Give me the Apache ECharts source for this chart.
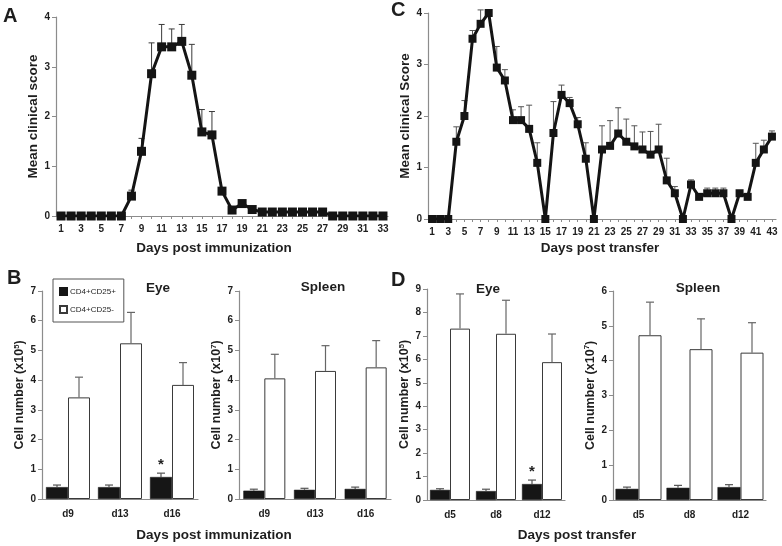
<!DOCTYPE html>
<html><head><meta charset="utf-8">
<script src="https://cdn.jsdelivr.net/npm/echarts@6/dist/echarts.min.js"></script>
<style>html,body{margin:0;padding:0;background:#fff}#c{width:782px;height:546px}</style>
</head><body><div id="c"></div><script>
// ---------- DATA ----------
const daysA = ['1','2','3','4','5','6','7','8','9','10','11','12','13','14','15','16','17','18','19','20','21','22','23','24','25','26','27','28','29','30','31','32','33'];
const scoreA = [0,0,0,0,0,0,0,0.4,1.3,2.86,3.4,3.4,3.51,2.83,1.69,1.63,0.5,0.12,0.25,0.13,0.08,0.08,0.08,0.08,0.08,0.08,0.08,0,0,0,0,0,0];
const errTopA = [null,null,null,null,null,null,null,0.52,1.56,3.48,3.85,3.76,3.85,3.45,2.14,2.1,0.56,null,0.29,0.18,null,null,null,null,null,null,null,null,null,null,null,null,null];

const daysC = ['1','2','3','4','5','6','7','8','9','10','11','12','13','14','15','16','17','18','19','20','21','22','23','24','25','26','27','28','29','30','31','32','33','34','35','36','37','38','39','40','41','42','43'];
const scoreC = [0,0,0,1.5,2.0,3.5,3.79,4.0,2.94,2.69,1.92,1.92,1.75,1.09,0,1.67,2.41,2.25,1.84,1.17,0,1.35,1.42,1.66,1.5,1.41,1.35,1.25,1.35,0.75,0.5,0,0.67,0.43,0.5,0.5,0.5,0,0.5,0.43,1.09,1.35,1.6];
const errTopC = [null,null,null,1.79,2.3,3.66,4.06,null,3.35,2.9,2.12,2.18,2.21,1.48,null,2.28,2.6,2.36,1.97,1.48,null,1.81,1.91,2.16,1.94,1.81,1.69,1.7,1.84,1.18,0.63,null,0.76,null,0.6,0.6,0.6,null,null,null,1.47,1.53,1.71];

const seriesNames = ['CD4+CD25+','CD4+CD25-'];

const daysB = ['d9','d13','d16'];
const bEyePos = [0.4,0.4,0.74];
const bEyePosErr = [0.47,0.47,0.87];
const bEyeNeg = [3.42,5.24,3.84];
const bEyeNegErr = [4.1,6.28,4.59];
const bSplPos = [0.28,0.31,0.34];
const bSplPosErr = [0.33,0.36,0.4];
const bSplNeg = [4.06,4.31,4.43];
const bSplNegErr = [4.87,5.16,5.33];

const daysD = ['d5','d8','d12'];
const dEyePos = [0.43,0.38,0.68];
const dEyePosErr = [0.48,0.46,0.85];
const dEyeNeg = [7.31,7.09,5.88];
const dEyeNegErr = [8.79,8.52,7.08];
const dSplPos = [0.32,0.35,0.37];
const dSplPosErr = [0.37,0.42,0.44];
const dSplNeg = [4.73,4.33,4.23];
const dSplNegErr = [5.68,5.2,5.09];

// ---------- STYLE ----------
const FONT = 'Liberation Sans, Arial, sans-serif';
const AX = '#8c8c8c';
const TXT = '#1e1e1e';

function errSeries(idx, vals, tops, offset, color, capW, lw, z) {
  const data = [];
  for (let i = 0; i < vals.length; i++) if (tops[i] != null) data.push([i, vals[i], tops[i]]);
  return {
    type: 'custom', xAxisIndex: idx, yAxisIndex: idx, clip: false, z: z, silent: true,
    encode: { x: 0, y: [1, 2] }, data: data,
    renderItem: function (params, api) {
      const p0 = api.coord([api.value(0), api.value(1)]);
      const p1 = api.coord([api.value(0), api.value(2)]);
      const x = p0[0] + offset;
      return { type: 'group', children: [
        { type: 'line', shape: { x1: x, y1: p0[1], x2: x, y2: p1[1] }, style: { stroke: color, lineWidth: lw } },
        { type: 'line', shape: { x1: x - capW / 2, y1: p1[1], x2: x + capW / 2, y2: p1[1] }, style: { stroke: color, lineWidth: lw } }
      ]};
    }
  };
}

const grids = [
  { left: 56, top: 17, width: 332, height: 199 },
  { left: 428, top: 13, width: 348, height: 206 },
  { left: 42, top: 291, width: 156, height: 208 },
  { left: 239, top: 291, width: 152, height: 208 },
  { left: 427, top: 289, width: 138, height: 211 },
  { left: 613, top: 291, width: 153, height: 209 }
];

const axisLine = { show: true, lineStyle: { color: AX, width: 1.2 } };
const tickLbl = { color: TXT, fontFamily: FONT, fontWeight: 'bold', fontSize: 10 };

function lineX(idx, cats) {
  return { type: 'category', gridIndex: idx, data: cats, boundaryGap: true,
    axisLine: axisLine, axisTick: { show: true, alignWithLabel: true, interval: 0, length: 3, lineStyle: { color: AX } },
    axisLabel: Object.assign({ interval: 1, margin: 8 }, tickLbl), splitLine: { show: false } };
}
function barX(idx, cats) {
  return { type: 'category', gridIndex: idx, data: cats, boundaryGap: true,
    axisLine: axisLine, axisTick: { show: false },
    axisLabel: Object.assign({ margin: 10 }, tickLbl), splitLine: { show: false } };
}
function valY(idx, max, name, gap, fs, rich) {
  const o = { type: 'value', gridIndex: idx, min: 0, max: max, interval: 1,
    axisLine: axisLine, axisTick: { show: true, length: 4, lineStyle: { color: AX } },
    axisLabel: Object.assign({ margin: 6 }, tickLbl), splitLine: { show: false },
    name: name, nameLocation: 'middle', nameRotate: 90, nameGap: gap,
    nameTextStyle: { color: TXT, fontFamily: FONT, fontWeight: 'bold', fontSize: fs } };
  if (rich) o.nameTextStyle.rich = { sup: { fontFamily: FONT, fontWeight: 'bold', fontSize: fs * 0.62, color: TXT, verticalAlign: 'top', padding: [0, 0, 7, 0] } };
  return o;
}

function lineSeries(idx, vals, size) {
  return { type: 'line', xAxisIndex: idx, yAxisIndex: idx, data: vals, z: 5,
    symbol: 'rect', symbolSize: size, showSymbol: true, showAllSymbol: true,
    lineStyle: { color: '#141414', width: 3 }, itemStyle: { color: '#141414' } };
}
function barPair(idx, pos, neg, bw, starIdx) {
  const posData = pos.map(function (v, i) {
    if (i === starIdx) return { value: v, label: { show: true, position: 'top', formatter: '*', distance: 5, color: TXT, fontSize: 15, fontWeight: 'bold', fontFamily: FONT } };
    return v;
  });
  return [
    { type: 'bar', name: seriesNames[0], xAxisIndex: idx, yAxisIndex: idx, data: posData, barWidth: bw, barGap: '0%', z: 3,
      itemStyle: { color: '#161616', borderColor: '#161616', borderWidth: 0.5 } },
    { type: 'bar', name: seriesNames[1], xAxisIndex: idx, yAxisIndex: idx, data: neg, barWidth: bw, barGap: '0%', z: 3,
      itemStyle: { color: '#ffffff', borderColor: '#3a3a3a', borderWidth: 1 } }
  ];
}

const supName = 'Cell number (x10{sup|5})';
const supName7 = 'Cell number (x10{sup|7})';

const series = [
  errSeries(0, scoreA, errTopA, 0, '#3a3a3a', 6, 1, 2),
  lineSeries(0, scoreA, 9),
  errSeries(1, scoreC, errTopC, 0, '#555555', 6, 1, 2),
  lineSeries(1, scoreC, 8)
].concat(
  barPair(2, bEyePos, bEyeNeg, 22, 2),
  [errSeries(2, bEyePos, bEyePosErr, -11, '#555', 8, 1.2, 4), errSeries(2, bEyeNeg, bEyeNegErr, 11, '#666', 8, 1.2, 4)],
  barPair(3, bSplPos, bSplNeg, 21, -1),
  [errSeries(3, bSplPos, bSplPosErr, -10.5, '#555', 8, 1.2, 4), errSeries(3, bSplNeg, bSplNegErr, 10.5, '#666', 8, 1.2, 4)],
  barPair(4, dEyePos, dEyeNeg, 20, 2),
  [errSeries(4, dEyePos, dEyePosErr, -10, '#555', 8, 1.2, 4), errSeries(4, dEyeNeg, dEyeNegErr, 10, '#666', 8, 1.2, 4)],
  barPair(5, dSplPos, dSplNeg, 23, -1),
  [errSeries(5, dSplPos, dSplPosErr, -11.5, '#555', 8, 1.2, 4), errSeries(5, dSplNeg, dSplNegErr, 11.5, '#666', 8, 1.2, 4)]
);

function txt(x, y, s, size, align) {
  return { type: 'text', x: x, y: y, z: 100,
    style: { text: s, fill: TXT, font: 'bold ' + size + 'px ' + FONT, textAlign: align || 'center', textVerticalAlign: 'middle' } };
}

const option = {
  animation: false,
  backgroundColor: '#ffffff',
  grid: grids,
  xAxis: [lineX(0, daysA), lineX(1, daysC), barX(2, daysB), barX(3, daysB), barX(4, daysD), barX(5, daysD)],
  yAxis: [
    valY(0, 4, 'Mean clinical score', 16, 13.5),
    valY(1, 4, 'Mean clinical Score', 4, 13.5),
    valY(2, 7, supName, 9, 12.5, true),
    valY(3, 7, supName7, 9, 12.5, true),
    valY(4, 9, supName, 9, 12.5, true),
    valY(5, 6, supName7, 15, 12.5, true)
  ],
  legend: {
    data: [{ name: seriesNames[0], icon: 'rect' }, { name: seriesNames[1], icon: 'rect' }],
    orient: 'vertical', left: 53, top: 279,
    itemWidth: 7, itemHeight: 7, itemGap: 9, padding: [8, 8, 8, 6],
    borderColor: '#555', borderWidth: 1, selectedMode: false,
    textStyle: { fontFamily: FONT, fontSize: 8, color: TXT, padding: [0, 0, 0, -2] }
  },
  series: series,
  graphic: [
    txt(3, 16, 'A', 20, 'left'),
    txt(7, 278, 'B', 20, 'left'),
    txt(391, 10, 'C', 20, 'left'),
    txt(391, 280, 'D', 20, 'left'),
    txt(214, 248, 'Days post immunization', 13.5),
    txt(600, 248, 'Days post transfer', 13.5),
    txt(214, 535, 'Days post immunization', 13.5),
    txt(577, 535, 'Days post transfer', 13.5),
    txt(158, 288, 'Eye', 13.5),
    txt(323, 287, 'Spleen', 13.5),
    txt(488, 289, 'Eye', 13.5),
    txt(698, 288, 'Spleen', 13.5)
  ]
};

const chart = echarts.init(document.getElementById('c'), null, { renderer: 'canvas' });
chart.setOption(option);
</script></body></html>
